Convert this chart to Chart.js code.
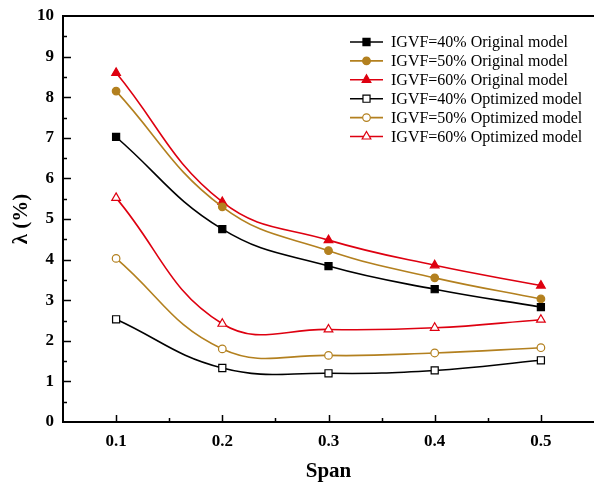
<!DOCTYPE html>
<html>
<head>
<meta charset="utf-8">
<script src="https://cdn.jsdelivr.net/npm/chart.js@4/dist/chart.umd.min.js"></script>
<style>
    html, body { margin: 0; padding: 0; background: #fff; overflow: hidden; }
    canvas { display: block; }
</style>
</head>
<body>
<canvas id="spanChart" width="594" height="488"></canvas>
<script>
// values
const spans = [0.1, 0.2, 0.3, 0.4, 0.5];
const orig40 = [7.02, 4.75, 3.84, 3.27, 2.83];
const orig50 = [8.15, 5.30, 4.22, 3.55, 3.03];
const orig60 = [8.60, 5.42, 4.48, 3.86, 3.36];
const opt40 = [2.53, 1.33, 1.20, 1.27, 1.52];
const opt50 = [4.03, 1.80, 1.64, 1.70, 1.83];
const opt60 = [5.52, 2.42, 2.28, 2.32, 2.52];

const xTicks = [0.1, 0.2, 0.3, 0.4, 0.5];
const xMinor = [0.15, 0.25, 0.35, 0.45];
const yTicks = [0, 1, 2, 3, 4, 5, 6, 7, 8, 9, 10];
const yMinor = [0.5, 1.5, 2.5, 3.5, 4.5, 5.5, 6.5, 7.5, 8.5, 9.5];

const BLACK = '#000000';
const GOLD = '#b3801f';
const RED = '#de0010';
const SERIF = '"Liberation Serif", "Times New Roman", serif';

function pts(vals) {
    return spans.map((s, i) => ({ x: s, y: vals[i] }));
}

function series(label, vals, color, style, filled) {
    const r = style === 'rect' ? 5 : (style === 'triangle' ? 5 : 3.8);
    return {
        label: label,
        data: pts(vals),
        borderColor: color,
        backgroundColor: filled ? color : '#ffffff',
        pointBorderColor: color,
        pointBackgroundColor: filled ? color : '#ffffff',
        pointStyle: style,
        pointRadius: r,
        pointBorderWidth: 1.2,
        borderWidth: 1.6,
        tension: 0.42,
        fill: false
    };
}

// frame (top line) + inward ticks
const framePlugin = {
    id: 'frame',
    afterDraw(chart) {
        const { ctx, chartArea: a, scales: { x, y } } = chart;
        ctx.save();
        ctx.strokeStyle = '#000';
        ctx.lineWidth = 2;
        ctx.beginPath();
        ctx.moveTo(a.left - 1, a.top);
        ctx.lineTo(a.right + 1, a.top);
        ctx.stroke();
        ctx.lineWidth = 1.5;
        ctx.beginPath();
        yTicks.forEach(v => {
            if (v === 0 || v === 10) return;
            const py = Math.round(y.getPixelForValue(v)) + 0.5;
            ctx.moveTo(a.left, py); ctx.lineTo(a.left + 8, py);
        });
        yMinor.forEach(v => {
            const py = Math.round(y.getPixelForValue(v)) + 0.5;
            ctx.moveTo(a.left, py); ctx.lineTo(a.left + 4, py);
        });
        xTicks.forEach(v => {
            const px = Math.round(x.getPixelForValue(v)) + 0.5;
            ctx.moveTo(px, a.bottom); ctx.lineTo(px, a.bottom - 7);
        });
        xMinor.forEach(v => {
            const px = Math.round(x.getPixelForValue(v)) + 0.5;
            ctx.moveTo(px, a.bottom); ctx.lineTo(px, a.bottom - 4);
        });
        ctx.stroke();
        ctx.restore();
    }
};

// legend with line + marker samples
const legendPlugin = {
    id: 'lineLegend',
    afterDraw(chart) {
        const ctx = chart.ctx;
        const x0 = 350, x1 = 383, tx = 391, top = 42, step = 18.9;
        ctx.save();
        ctx.font = '16px ' + SERIF;
        ctx.textBaseline = 'middle';
        chart.data.datasets.forEach((ds, i) => {
            const yy = top + i * step;
            ctx.strokeStyle = ds.borderColor;
            ctx.lineWidth = 1.6;
            ctx.beginPath();
            ctx.moveTo(x0, yy); ctx.lineTo(x1, yy);
            ctx.stroke();
            ctx.fillStyle = ds.pointBackgroundColor;
            ctx.strokeStyle = ds.pointBorderColor;
            ctx.lineWidth = ds.pointBorderWidth;
            Chart.helpers.drawPoint(ctx, {
                pointStyle: ds.pointStyle,
                radius: ds.pointRadius,
                rotation: 0,
                borderWidth: ds.pointBorderWidth
            }, (x0 + x1) / 2, yy);
            ctx.fillStyle = '#000';
            ctx.fillText(ds.label, tx, yy + 1);
        });
        ctx.restore();
    }
};

document.addEventListener('DOMContentLoaded', function () {
    const ctx = document.getElementById('spanChart').getContext('2d');
    new Chart(ctx, {
        type: 'line',
        data: {
            datasets: [
                series('IGVF=40% Original model', orig40, BLACK, 'rect', true),
                series('IGVF=50% Original model', orig50, GOLD, 'circle', true),
                series('IGVF=60% Original model', orig60, RED, 'triangle', true),
                series('IGVF=40% Optimized model', opt40, BLACK, 'rect', false),
                series('IGVF=50% Optimized model', opt50, GOLD, 'circle', false),
                series('IGVF=60% Optimized model', opt60, RED, 'triangle', false)
            ]
        },
        options: {
            responsive: false,
            animation: false,
            layout: { autoPadding: false, padding: { top: 16, right: 0, left: 0, bottom: 0 } },
            plugins: {
                legend: { display: false },
                tooltip: { enabled: false }
            },
            scales: {
                x: {
                    type: 'linear',
                    min: 0.05,
                    max: 0.55,
                    afterBuildTicks: s => { s.ticks = xTicks.map(v => ({ value: v })); },
                    afterFit: s => { s.height = 66; s.paddingLeft = 0; s.paddingRight = 0; },
                    grid: { display: false, drawTicks: false },
                    border: { display: true, color: '#000', width: 2 },
                    ticks: {
                        padding: 9,
                        color: '#000',
                        font: { family: SERIF, size: 17, weight: 'bold' },
                        callback: v => v.toFixed(1),
                        maxRotation: 0
                    },
                    title: {
                        display: true,
                        text: 'Span',
                        color: '#000',
                        font: { family: SERIF, size: 21, weight: 'bold' },
                        padding: { top: 0, bottom: 4 }
                    }
                },
                y: {
                    min: 0,
                    max: 10,
                    afterBuildTicks: s => { s.ticks = yTicks.map(v => ({ value: v })); },
                    afterFit: s => { s.width = 63; s.paddingTop = 0; s.paddingBottom = 0; },
                    grid: { display: false, drawTicks: false },
                    border: { display: true, color: '#000', width: 2 },
                    ticks: {
                        padding: 9,
                        color: '#000',
                        font: { family: SERIF, size: 17, weight: 'bold' }
                    },
                    title: {
                        display: true,
                        text: 'λ (%)',
                        color: '#000',
                        font: { family: SERIF, size: 21, weight: 'bold' },
                        padding: { top: 9, bottom: 0 }
                    }
                }
            }
        },
        plugins: [framePlugin, legendPlugin]
    });
});
</script>
</body>
</html>
